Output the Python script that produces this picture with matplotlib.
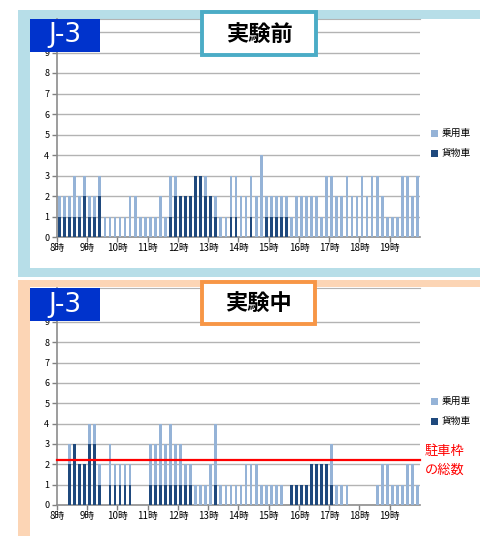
import matplotlib
matplotlib.use("Agg")
import matplotlib.pyplot as plt
from matplotlib.patches import Rectangle
import numpy as np

plt.rcParams['font.family'] = ['Noto Sans CJK JP', 'DejaVu Sans']

hours = ["8時", "9時", "10時", "11時", "12時", "13時", "14時", "15時", "16時", "17時", "18時", "19時"]

# 実験前 (10-minute slots, 8:00-20:00)
before_total = [2, 2, 2, 3, 2, 3,  2, 2, 3, 1, 1, 1,
                1, 1, 2, 2, 1, 1,  1, 1, 2, 1, 3, 3,
                2, 2, 2, 3, 3, 3,  2, 2, 1, 1, 3, 3,
                2, 2, 3, 2, 4, 2,  2, 2, 2, 2, 1, 2,
                2, 2, 2, 2, 1, 3,  3, 2, 2, 3, 2, 2,
                3, 2, 3, 3, 2, 1,  1, 1, 3, 3, 2, 3]
before_truck = [1, 1, 1, 1, 1, 2,  1, 1, 2, 0, 0, 0,
                0, 0, 0, 0, 0, 0,  0, 0, 0, 0, 1, 2,
                2, 2, 2, 3, 3, 2,  2, 1, 0, 0, 1, 1,
                0, 0, 1, 0, 0, 1,  1, 1, 1, 1, 0, 0,
                0, 0, 0, 0, 0, 0,  0, 0, 0, 0, 0, 0,
                0, 0, 0, 0, 0, 0,  0, 0, 0, 0, 0, 0]

# 実験中
during_total = [0, 0, 3, 3, 2, 2,  4, 4, 2, 0, 3, 2,
                2, 2, 2, 0, 0, 0,  3, 3, 4, 3, 4, 3,
                3, 2, 2, 1, 1, 1,  2, 4, 1, 1, 1, 1,
                1, 2, 2, 2, 1, 1,  1, 1, 1, 0, 1, 1,
                1, 1, 2, 2, 2, 2,  3, 1, 1, 1, 0, 0,
                0, 0, 0, 1, 2, 2,  1, 1, 1, 2, 2, 1]
during_truck = [0, 0, 2, 3, 2, 2,  3, 3, 1, 0, 1, 1,
                1, 1, 1, 0, 0, 0,  1, 1, 1, 1, 1, 1,
                1, 1, 1, 0, 0, 0,  0, 1, 0, 0, 0, 0,
                0, 0, 0, 0, 0, 0,  0, 0, 0, 0, 1, 1,
                1, 1, 2, 2, 2, 2,  1, 0, 0, 0, 0, 0,
                0, 0, 0, 0, 0, 0,  0, 0, 0, 0, 0, 0]

parking_total = 2.2

LIGHT = '#95b3d7'
DARK = '#1f497d'
W, H = 481, 536

fig = plt.figure(figsize=(W / 100, H / 100), dpi=100)

def frac_rect(x0, y0, x1, y1):
    return (x0 / W, 1 - y1 / H, (x1 - x0) / W, (y1 - y0) / H)

def add_rect(x0, y0, x1, y1, fc, ec='none', lw=0, z=0):
    l, b, w, h = frac_rect(x0, y0, x1, y1)
    r = Rectangle((l, b), w, h, transform=fig.transFigure, facecolor=fc,
                  edgecolor=ec, linewidth=lw, zorder=z)
    fig.add_artist(r)

# panel backgrounds
add_rect(18, 10, 481, 277, '#b7dee8', z=0)
add_rect(30, 19, 481, 268, 'white', z=0)
add_rect(18, 280, 481, 536, '#fcd5b5', z=0)
add_rect(30, 287, 481, 536, 'white', z=0)

def make_axes(y0px, y_top_px, ytop_val, total, truck, show10):
    l = 57 / W
    r = 420 / W
    b = 1 - y0px / H
    h = (y0px - y_top_px) / H
    ax = fig.add_axes([l, b, r - l, h])
    ax.set_facecolor('none')
    tot = np.array(total)
    trk = np.array(truck)
    car = tot - trk
    x = np.arange(len(tot)) + 0.5
    ax.bar(x, trk, width=0.55, color=DARK, zorder=3)
    ax.bar(x, car, width=0.55, bottom=trk, color=LIGHT, zorder=3)
    ax.set_xlim(0, 72)
    ax.set_ylim(0, ytop_val)
    gmax = 10 if show10 else 9
    for v in range(1, gmax + 1):
        ax.axhline(v, color='#b3b3b3', lw=1.0, zorder=1)
    ax.set_yticks(range(0, 10))
    ax.set_yticklabels([str(v) for v in range(0, 10)], fontsize=6.5)
    ax.set_xticks(np.arange(0, 72, 6))
    ax.set_xticklabels(hours, fontsize=7)
    ax.tick_params(axis='both', colors='#808080', length=3.5, width=1, labelcolor='black', pad=2)
    ax.tick_params(axis='x', pad=1)
    ax.spines['right'].set_visible(False)
    ax.spines['top'].set_color('#b3b3b3')
    ax.spines['left'].set_color('#8c8c8c')
    ax.spines['bottom'].set_color('#8c8c8c')
    ax.spines['left'].set_linewidth(1.2)
    ax.spines['bottom'].set_linewidth(1.2)
    return ax

ax1 = make_axes(237, 19, (237 - 19) / 20.5, before_total, before_truck, True)
ax2 = make_axes(505, 288, (505 - 288) / 20.35, during_total, during_truck, False)
ax2.axhline(parking_total, color='#ff0000', lw=1.6, zorder=4, clip_on=False)

# legends
def legend(y1, y2):
    for yy, c, t in [(y1, LIGHT, '乗用車'), (y2, DARK, '貨物車')]:
        add_rect(431, yy - 3.5, 438, yy + 3.5, c, z=5)
        fig.text(442 / W, 1 - yy / H, t, fontsize=7, va='center', ha='left', zorder=5)

legend(133, 153)
legend(401, 421)
fig.text(425 / W, 1 - 452 / H, '駐車枠', color='#ff0000', fontsize=9.5, va='center', ha='left')
fig.text(425 / W, 1 - 470 / H, 'の総数', color='#ff0000', fontsize=9.5, va='center', ha='left')

# J-3 boxes and titles
for (y0, y1) in [(19, 52), (288, 321)]:
    add_rect(30, y0, 100, y1, '#0033cc', z=6)
    fig.text(65 / W, 1 - (y0 + y1) / 2 / H, 'J-3', color='white', fontsize=19,
             family=['Liberation Sans Narrow', 'DejaVu Sans'], ha='center', va='center', zorder=7)

add_rect(202.5, 11.5, 316.5, 54.5, 'white', ec='#4bacc6', lw=2.8, z=6)
fig.text(259.5 / W, 1 - 34 / H, '実験前', fontsize=16, weight='bold', ha='center', va='center', zorder=7)
add_rect(202.5, 281.5, 314.5, 323.5, 'white', ec='#f79646', lw=2.8, z=6)
fig.text(258.5 / W, 1 - 303 / H, '実験中', fontsize=16, weight='bold', ha='center', va='center', zorder=7)

fig.savefig('out.png', dpi=100)
